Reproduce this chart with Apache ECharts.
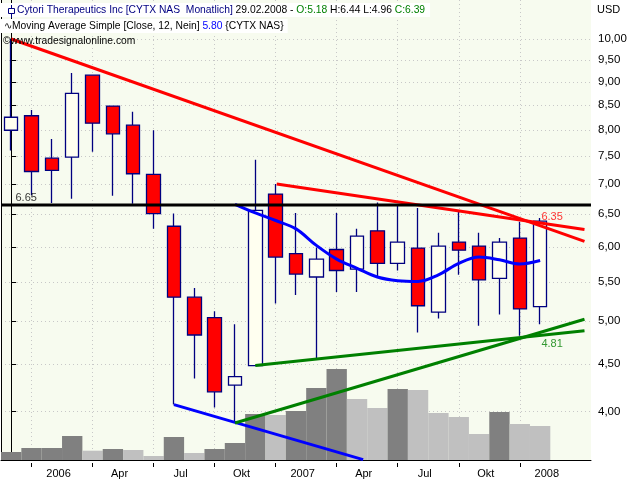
<!DOCTYPE html>
<html><head><meta charset="utf-8">
<script src="https://cdn.jsdelivr.net/npm/echarts@6/dist/echarts.min.js"></script>
<style>html,body{margin:0;padding:0;background:#fff}#c{width:640px;height:480px}</style>
</head><body><div id="c"></div>
<script>
// ---- data (monthly, Dec 2005 .. Feb 2008, plus two empty months) ----
const months = ['Dez','2006','Feb','Mär','Apr','Mai','Jun','Jul','Aug','Sep','Okt','Nov',
  'Dez','2007','Feb','Mär','Apr','Mai','Jun','Jul','Aug','Sep','Okt','Nov',
  'Dez','2008','Feb','Mär','Apr'];
const opens  = [7.99,8.28,7.46,7.48,9.15,8.48,8.09,7.17,6.31,5.30,5.04,4.27,
  4.48,6.83,5.90,5.57,5.96,5.68,6.24,5.76,5.98,5.11,6.07,6.01,5.55,6.13,5.18];
const highs  = [10.00,8.40,7.82,9.20,9.15,8.48,8.36,7.99,6.51,5.42,5.12,4.96,
  7.43,7.00,6.52,5.99,6.52,6.27,6.69,6.65,6.60,6.21,6.55,6.21,6.13,6.38,6.44];
const lows   = [7.60,6.81,6.68,6.75,7.58,6.80,6.67,6.27,4.07,4.34,4.04,3.89,
  4.48,5.22,5.33,4.56,5.37,5.37,5.57,5.66,4.86,5.03,5.60,4.94,5.08,4.82,4.96];
const closes = [8.25,7.22,7.24,8.75,8.13,7.92,7.18,6.51,5.30,4.83,4.20,4.36,
  6.56,5.85,5.61,5.82,5.66,6.16,5.76,6.07,5.19,6.01,5.95,5.53,6.07,5.15,6.39];
const volumes = [80,120,120,240,93,110,100,40,230,70,110,170,
  460,450,490,720,910,610,520,710,700,470,430,260,480,360,340];
const maValues = [null,null,null,null,null,null,null,null,null,null,null,6.66,
  6.52,6.40,6.27,6.02,5.82,5.69,5.57,5.52,5.51,5.60,5.76,5.85,5.81,5.75,5.80];
const priceTicks = [4,4.5,5,5.5,6,6.5,7,7.5,8,8.5,9,9.5,10];
const gridMonths = [1,4,7,10,13,16,19,22,25];
const redLong   = [[0,10.00],[28.18,6.08]];
const redShort  = [[13.05,7.00],[28.18,6.26]];
const blueLow   = [[8,4.07],[17.3,3.555]];
const greenFlat = [[12,4.48],[28.18,4.88]];
const greenSteep= [[11,3.89],[28.18,5.02]];
const resistance = 6.65;
const priceLabels = [
  {idx:0, price:6.65, text:'6.65', color:'#000000', dx:15, dy:-7},
  {idx:26, price:6.35, text:'6.35', color:'#ff0000', dx:12, dy:-7},
  {idx:26, price:4.81, text:'4.81', color:'#008000', dx:12, dy:7}
];
const maLast = 5.80;

// ---- build ----
const L = v => (v == null ? null : Math.log10(v));
const FONT = 'Liberation Sans';
const HF = 10.3;
const last = opens.length - 1;
const fmt = v => v.toFixed(2);
const candleData = opens.map((o,i) => [L(o), L(closes[i]), L(lows[i]), L(highs[i])]);
const volData = volumes.map((v,i) => ({
  value: v,
  itemStyle: {color: (i === 0 || v >= volumes[i-1]) ? '#808080' : '#c0c0c0'}
}));
const seg = a => a.map(p => [p[0], L(p[1])]);
const tickFn = idx => idx % 3 === 1 && idx <= last;

const chart = echarts.init(document.getElementById('c'), null, {renderer:'canvas'});
const lineSeries = (name, pts, color) => ({
  name, type:'line', xAxisIndex:1, yAxisIndex:0, data: seg(pts),
  symbol:'none', lineStyle:{color, width:3}, silent:true, z:5, animation:false
});
const rs = c => ({color:c, fontSize:HF, fontFamily:FONT});

chart.setOption({
  animation:false,
  backgroundColor:'#ffffff',
  textStyle:{fontFamily:FONT},
  title:[
    {left:0, top:3, padding:[2,5,2,17], backgroundColor:'#ffffff',
      text:'{n|Cytori Therapeutics Inc [CYTX NAS  Monatlich]}{k| 29.02.2008 - }{g|O:'+fmt(opens[last])+'}{k| H:'+fmt(highs[last])+' L:'+fmt(lows[last])+' }{g|C:'+fmt(closes[last])+'}',
      textStyle:{fontSize:HF, fontWeight:'normal', fontFamily:FONT, color:'#000',
        rich:{n:rs('#000080'),k:rs('#000000'),g:rs('#008000')}}},
    {left:0, top:19, padding:[2,4,2,4], backgroundColor:'#ffffff',
      text:'{k|\u223FMoving Average Simple [Close, 12, Nein] }{b|'+fmt(maLast)+'} {CYTX NAS}',
      textStyle:{fontSize:HF, fontWeight:'normal', fontFamily:FONT, color:'#000',
        rich:{k:rs('#000000'),b:rs('#0000ff')}}},
    {left:3, top:36, padding:0, text:'\u00A9www.tradesignalonline.com',
      textStyle:{fontSize:HF, fontWeight:'normal', fontFamily:FONT, color:'#000'}},
    {left:597, top:4, padding:0, text:'USD',
      textStyle:{fontSize:11, fontWeight:'normal', fontFamily:FONT, color:'#000'}}
  ],
  graphic:[
    {type:'line', shape:{x1:11.5,y1:5,x2:11.5,y2:18}, style:{stroke:'#000080',lineWidth:1}, z:100},
    {type:'rect', shape:{x:8.5,y:8.5,width:6,height:5}, style:{fill:'#ffffff',stroke:'#000080',lineWidth:1}, z:101}
  ],
  grid:{left:1, right:49, top:0, bottom:20, show:true, backgroundColor:'#f7fbef', borderWidth:0, containLabel:false},
  xAxis:[
    {type:'category', data:months, boundaryGap:true, position:'bottom',
      axisLine:{show:true, lineStyle:{color:'#000',width:1}},
      axisTick:{show:false},
      axisLabel:{interval:tickFn, color:'#000', fontSize:11, fontFamily:FONT, margin:8, padding:[0,0,0,54]},
      splitLine:{show:false}},
    {type:'value', min:-0.5, max:28.5, position:'top', show:true,
      axisLine:{show:false}, axisLabel:{show:false},
      axisTick:{show:false, customValues:gridMonths},
      splitLine:{show:true, lineStyle:{color:'#c8c8c8', type:[1,3], width:1}}},
    {type:'category', data:months, boundaryGap:true, position:'bottom', offset:3,
      axisLine:{show:false},
      axisTick:{show:true, interval:tickFn, alignWithLabel:true, length:4, lineStyle:{color:'#000'}},
      axisLabel:{show:false}, splitLine:{show:false}}
  ],
  yAxis:[
    {type:'value', position:'right', min:1 - 421/936.5, max:1 + 39/936.5,
      axisLine:{show:true, lineStyle:{color:'#000',width:1}},
      axisTick:{show:true, length:5, lineStyle:{color:'#000'}, customValues:priceTicks.map(L)},
      axisLabel:{show:true, customValues:priceTicks.map(L), color:'#000', fontSize:11.5, fontFamily:FONT, margin:7,
        formatter: v => Math.pow(10, v).toFixed(2).replace('.', ',')},
      splitLine:{show:true, lineStyle:{color:'#c8c8c8', type:[1,3], width:1}}},
    {type:'value', position:'left', min:0, max:4600,
      axisLine:{show:true, lineStyle:{color:'#000',width:1}},
      axisTick:{show:false}, axisLabel:{show:false}, splitLine:{show:false}}
  ],
  series:[
    {name:'Volume', type:'bar', xAxisIndex:0, yAxisIndex:1, data:volData, barCategoryGap:'0%', silent:true, z:1},
    {name:'CYTX', type:'candlestick', xAxisIndex:0, yAxisIndex:0, data:candleData, barWidth:14, z:3,
      itemStyle:{color:'#fffff0', color0:'#ff0000', borderColor:'#000080', borderColor0:'#000080', borderWidth:1.3}},
    {name:'MA12', type:'line', xAxisIndex:0, yAxisIndex:0, data:maValues.map(L), smooth:0.35, symbol:'none',
      lineStyle:{color:'#0000ff', width:3}, z:4, connectNulls:false},
    lineSeries('redLong', redLong, '#ff0000'),
    lineSeries('redShort', redShort, '#ff0000'),
    lineSeries('blueLow', blueLow, '#0000ff'),
    lineSeries('greenFlat', greenFlat, '#008000'),
    lineSeries('greenSteep', greenSteep, '#008000'),
    lineSeries('resistance', [[-0.5, resistance],[28.5, resistance]], '#000000'),
    {name:'labels', type:'scatter', xAxisIndex:1, yAxisIndex:0, symbolSize:0, silent:true, z:6,
      data: priceLabels.map(p => ({value:[p.idx, L(p.price)],
        label:{show:true, position:'inside', formatter:p.text, color:p.color, fontSize:11, fontFamily:FONT, offset:[p.dx,p.dy]}}))}
  ]
});
</script></body></html>
